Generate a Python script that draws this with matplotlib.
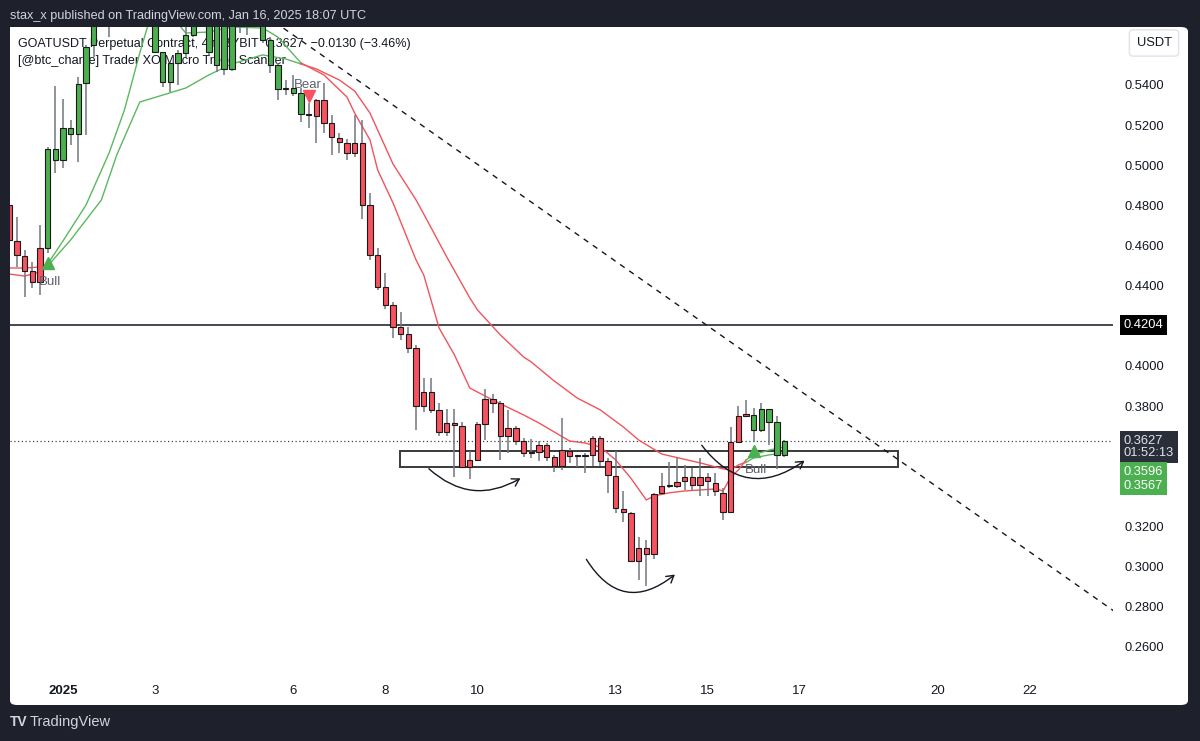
import numpy as np
import matplotlib.pyplot as plt
from matplotlib.patches import Rectangle, FancyBboxPatch, FancyArrowPatch
from matplotlib.transforms import blended_transform_factory

plt.rcParams['font.family'] = ['Liberation Sans', 'DejaVu Sans']

# GOATUSDT 4h candles, index 0 = Jan 1 2025 00:00 (6 candles per day)
first_idx = -7
opens = [.4802, .4624, .4550, .4475, .4418,
         .4590, .5083, .5025, .5187, .5156,
         .5408, .5600, .5850, .6000, .5950,
         .6050, .6150, .6080, .5980, .5900,
         .5566, .5417, .5508, .5558, .5649,
         .5780, .5800, .5500, .5760, .5478,
         .5780, .5850, .5760, .5820, .5624,
         .5500, .5379, .5387, .5359, .5256,
         .5247, .5325, .5209, .5138, .5113,
         .5060, .5110, .4802, .4553, .4393,
         .4304, .4196, .4160, .4089, .3802,
         .3870, .3778, .3669, .3718, .3702,
         .3496, .3529, .3712, .3835, .3815,
         .3649, .3691, .3624, .3566, .3572,
         .3604, .3546, .3499, .3577, .3552,
         .3552, .3557, .3641, .3524, .3453,
         .3287, .3267, .3029, .3093, .3064,
         .3367, .3400, .3400, .3429, .3449,
         .3408, .3449, .3419, .3369, .3270,
         .3623, .3753, .3757, .3682, .3785,
         .3719, .3557]
closes = [.4628, .4552, .4475, .4418, .4590,
          .5083, .5025, .5187, .5156, .5403,
          .5588, .5850, .6000, .5950, .6050,
          .6150, .6080, .5980, .5900, .5566,
          .5417, .5508, .5561, .5649, .5780,
          .5900, .5566, .5760, .5478, .5780,
          .5850, .5760, .5820, .5624, .5500,
          .5379, .5384, .5362, .5256, .5251,
          .5325, .5209, .5140, .5116, .5060,
          .5110, .4802, .4553, .4393, .4304,
          .4196, .4160, .4089, .3802, .3870,
          .3778, .3670, .3718, .3707, .3496,
          .3529, .3710, .3835, .3815, .3649,
          .3691, .3624, .3566, .3572, .3607,
          .3546, .3499, .3579, .3552, .3552,
          .3552, .3641, .3524, .3458, .3292,
          .3270, .3029, .3093, .3064, .3363,
          .3400, .3400, .3424, .3446, .3408,
          .3449, .3429, .3375, .3270, .3619,
          .3753, .3762, .3682, .3785, .3719,
          .3557, .3627]
highs = [.4837, .4744, .4578, .4520, .4700,
         .5093, .5395, .5332, .5226, .5438,
         .5600, .5900, .6080, .6150, .6120,
         .6250, .6220, .6130, .6020, .5950,
         .5566, .5508, .5574, .5690, .5830,
         .5960, .5850, .5800, .5790, .5820,
         .5900, .5880, .5860, .5850, .5640,
         .5510, .5425, .5450, .5385, .5310,
         .5330, .5411, .5251, .5162, .5130,
         .5251, .5226, .4861, .4587, .4465,
         .4319, .4271, .4193, .4105, .3940,
         .3940, .3815, .3785, .3785, .3723,
         .3574, .3723, .3885, .3861, .3823,
         .3782, .3702, .3642, .3636, .3624,
         .3614, .3557, .3740, .3590, .3557,
         .3567, .3652, .3652, .3541, .3574,
         .3375, .3270, .3147, .3131, .3366,
         .3469, .3519, .3541, .3508, .3491,
         .3541, .3466, .3466, .3392, .3698,
         .3798, .3831, .3790, .3815, .3785,
         .3749, .3632]
lows = [.4608, .4495, .4346, .4388, .4354,
        .4561, .4963, .4988, .5101, .5018,
        .5151, .5541, .5800, .5640, .5880,
        .5980, .5990, .5900, .5790, .5560,
        .5392, .5367, .5400, .5541, .5640,
        .5720, .5549, .5466, .5450, .5470,
        .5657, .5649, .5700, .5610, .5458,
        .5325, .5350, .5345, .5217, .5184,
        .5110, .5160, .5051, .5060, .5027,
        .5043, .4731, .4528, .4379, .4283,
        .4139, .4130, .4064, .3682, .3773,
        .3768, .3649, .3649, .3446, .3496,
        .3436, .3529, .3632, .3765, .3529,
        .3566, .3607, .3547, .3541, .3524,
        .3524, .3474, .3483, .3515, .3495,
        .3467, .3503, .3503, .3367, .3267,
        .3220, .3026, .2935, .2905, .3040,
        .3358, .3392, .3392, .3384, .3384,
        .3350, .3350, .3350, .3234, .3270,
        .3618, .3752, .3623, .3673, .3607,
        .3486, .3546]

# Trader XO trend scanner: fast / slow EMA
fast_idx = [-7, -5, -3, -2, 0, 3, 6, 8, 10, 11, 13, 14, 16, 19, 22, 26, 28, 31,
            34, 37, 38, 40, 41, 43, 46, 47, 49, 51, 53, 56, 60, 62, 66, 68, 70,
            72, 74, 76, 77, 79, 81, 85, 86, 87, 88, 89, 90, 92, 94]
fast_val = [.4458, .4448, .4468, .4508, .4623, .4802, .5061, .5275, .5559, .5689,
            .5760, .5750, .5659, .5664, .5689, .5684, .5639, .5510,
            .5450, .5340, .5260, .5126, .4976, .4812, .4528, .4453, .4189, .4055,
            .3890, .3830, .3756, .3716, .3626, .3616, .3596,
            .3532, .3440, .3332, .3352, .3368, .3377, .3387, .3377, .3447, .3482,
            .3532, .3557, .3581, .3596]
slow_idx = [-7, -5, -3, -2, 1, 5, 7, 10, 13, 16, 19, 22, 26, 29, 31, 33, 36, 38,
            40, 43, 46, 47, 50, 53, 54, 57, 60, 61, 64, 67, 70, 73, 75, 78, 83,
            86, 87, 88, 89, 90, 92, 94]
slow_val = [.4488, .4488, .4493, .4498, .4628, .4827, .5051, .5315, .5350, .5385,
            .5450, .5505, .5550, .5530, .5505, .5480, .5425, .5370,
            .5260, .5006, .4827, .4757, .4543, .4339, .4279, .4154, .4045, .4020,
            .3925, .3840, .3781, .3696, .3631, .3561, .3517,
            .3487, .3482, .3507, .3520, .3542, .3557, .3567]
line_breaks = [-2, 31, 89]          # where the EMA colour flips

bull_marks = [-2, 90]
bull_mark_prices = [.4513, .3576]
bear_marks = [32]
bear_mark_prices = [.5345]

day_ticks = [1, 3, 6, 8, 10, 13, 15, 17, 20, 22]
day_labels = ['2025', '3', '6', '8', '10', '13', '15', '17', '20', '22']
price_ticks = [.54, .52, .50, .48, .46, .44, .40, .38, .32, .30, .28, .26]

level_line = 0.4204
last_price = 0.3627
zone = (43.9, 108.8, 0.3497, 0.3576)            # x0, x1, low, high
trend_pts = [(24, 0.5810), (137.1, 0.2774)]
arrows = [((47.4, .3497), (59.9, .3447), 0.38),
          ((68.0, .3048), (80.0, .2969), 0.58),
          ((83.0, .3616), (96.9, .3536), 0.50)]

idx = np.arange(first_idx, first_idx + len(opens))
W, H = 1200, 741


def fx(px):
    return px / W


def fy(py):
    return 1 - py / H


fig = plt.figure(figsize=(12, 7.41), dpi=100)
fig.patch.set_facecolor('#1e212b')
panel = FancyBboxPatch((fx(10), fy(705)), fx(1178), (705 - 27) / H,
                       boxstyle='round,pad=0,rounding_size=0.006',
                       transform=fig.transFigure, fc='white', ec='none', zorder=-5)
fig.add_artist(panel)

ax = fig.add_axes([fx(10), fy(677), (1113 - 10) / W, (677 - 27) / H])
ax.set_facecolor('white')
for s in ax.spines.values():
    s.set_visible(False)
ax.set_xlim(-6.905, 136.8)
ax.set_ylim(0.245, 0.5689)

green, red = '#4caf50', '#f7525f'
ema_green, ema_red = '#5cb85f', '#f0545c'

# bar colours follow the trend signals
marks = sorted([(m, 'bull') for m in bull_marks] + [(m, 'bear') for m in bear_marks])
cols = []
for i in idx:
    state = 'bear'
    for m, s in marks:
        if i >= m:
            state = s
    cols.append(green if state == 'bull' else red)

o, c = np.array(opens), np.array(closes)
bottoms = np.minimum(o, c)
heights = np.maximum(np.abs(o - c), 0.0006)
ax.vlines(idx, lows, highs, color='#72757f', lw=1.1, zorder=3)
ax.bar(idx, heights, bottom=bottoms, width=0.7, color=cols,
       edgecolor='#1a1a1a', linewidth=0.8, zorder=4)

# EMA ribbons, split at the colour flips
bounds = [-100] + line_breaks + [200]
for k in range(len(bounds) - 1):
    a, b = bounds[k], bounds[k + 1]
    col = ema_red if k % 2 == 0 else ema_green
    for xs, ys in ((fast_idx, fast_val), (slow_idx, slow_val)):
        sel = [(x, y) for x, y in zip(xs, ys) if a <= x <= b]
        if len(sel) > 1:
            px, py = zip(*sel)
            ax.plot(px, py, color=col, lw=1.0, zorder=2.5, solid_joinstyle='round')

# signals
ax.plot(bull_marks, bull_mark_prices, '^', color=green, ms=8, mec=green, zorder=5)
ax.plot(bear_marks, bear_mark_prices, 'v', color=red, ms=8, mec=red, zorder=5)
for m, p in zip(bull_marks, bull_mark_prices):
    ax.text(m + 0.3, p - 0.0095, 'Bull', color='#5d606b', fontsize=9.5,
            ha='center', va='center', zorder=5)
for m, p in zip(bear_marks, bear_mark_prices):
    ax.text(m - 0.1, p + 0.0055, 'Bear', color='#5d606b', fontsize=9.5,
            ha='center', va='center', zorder=5)

# drawings
ax.axhline(level_line, color='#131722', lw=1.1, zorder=2)
ax.axhline(last_price, color='#444', lw=0.9, ls=(0, (1, 2)), zorder=2)
ax.add_patch(Rectangle((zone[0], zone[2]), zone[1] - zone[0], zone[3] - zone[2],
                       fc='none', ec='#3a3a3a', lw=1.4, zorder=2))
(tx0, ty0), (tx1, ty1) = trend_pts
ax.plot([tx0, tx1], [ty0, ty1], color='#131722', lw=1.0, ls=(0, (4, 4)), zorder=2)
for start, end, rad in arrows:
    ax.add_patch(FancyArrowPatch(start, end, connectionstyle=f'arc3,rad={rad}',
                                 arrowstyle='->,head_length=5,head_width=3',
                                 lw=1.0, color='#131722', zorder=5))

# legend
ax.text(0.0073, 0.9738,
        'GOATUSDT Perpetual Contract, 4h, BYBIT  0.3627  \u22120.0130 (\u22123.46%)',
        transform=ax.transAxes, fontsize=9.0, color='#131722', va='center', zorder=1)
ax.text(0.0073, 0.9477, '[@btc_charlie] Trader XO Macro Trend Scanner',
        transform=ax.transAxes, fontsize=9.1, color='#131722', va='center', zorder=1)

# axes
ax.yaxis.tick_right()
ax.set_yticks(price_ticks)
ax.set_yticklabels([f'{v:.4f}' for v in price_ticks])
ax.tick_params(axis='y', length=0, pad=8, labelsize=9.3, labelcolor='#131722')
ax.set_xticks([(d - 1) * 6 for d in day_ticks])
ax.set_xticklabels(day_labels)
ax.tick_params(axis='x', length=0, pad=6, labelsize=9.5, labelcolor='#131722')
ax.get_xticklabels()[0].set_fontweight('bold')

# price labels on the scale
tr = blended_transform_factory(ax.transAxes, ax.transData)
ax.text(1.0095, level_line, '0.4204', transform=tr, color='white', fontsize=9.3,
        va='center', ha='left', clip_on=False,
        bbox=dict(boxstyle='square,pad=0.28', fc='#000000', ec='none'))
ax.text(1.0095, 0.3596, '0.3627\n01:52:13', transform=tr, color='#e0e3eb', fontsize=9.3,
        va='center', ha='left', clip_on=False, linespacing=1.05,
        bbox=dict(boxstyle='square,pad=0.3', fc='#2a2e39', ec='none'))
ax.text(1.0095, 0.3437, '0.3596\n0.3567', transform=tr, color='white', fontsize=9.3,
        va='center', ha='left', clip_on=False, linespacing=1.15,
        bbox=dict(boxstyle='square,pad=0.3', fc=green, ec='none'))
fig.text(fx(1154), fy(43), 'USDT', fontsize=9.3, color='#131722', ha='center', va='center',
         bbox=dict(boxstyle='round,pad=0.55,rounding_size=0.3', fc='white', ec='#e0e3eb'))

# header / footer
fig.text(fx(10), fy(16), 'stax_x published on TradingView.com, Jan 16, 2025 18:07 UTC',
         color='#d1d4dc', fontsize=9.1, va='center')
fig.text(fx(10), fy(722), 'TV', color='#d1d4dc', fontsize=10, fontweight='heavy', va='center')
fig.text(fx(30), fy(722), 'TradingView', color='#d1d4dc', fontsize=10.5, va='center')

fig.savefig('out.png', dpi=100, facecolor=fig.get_facecolor())
